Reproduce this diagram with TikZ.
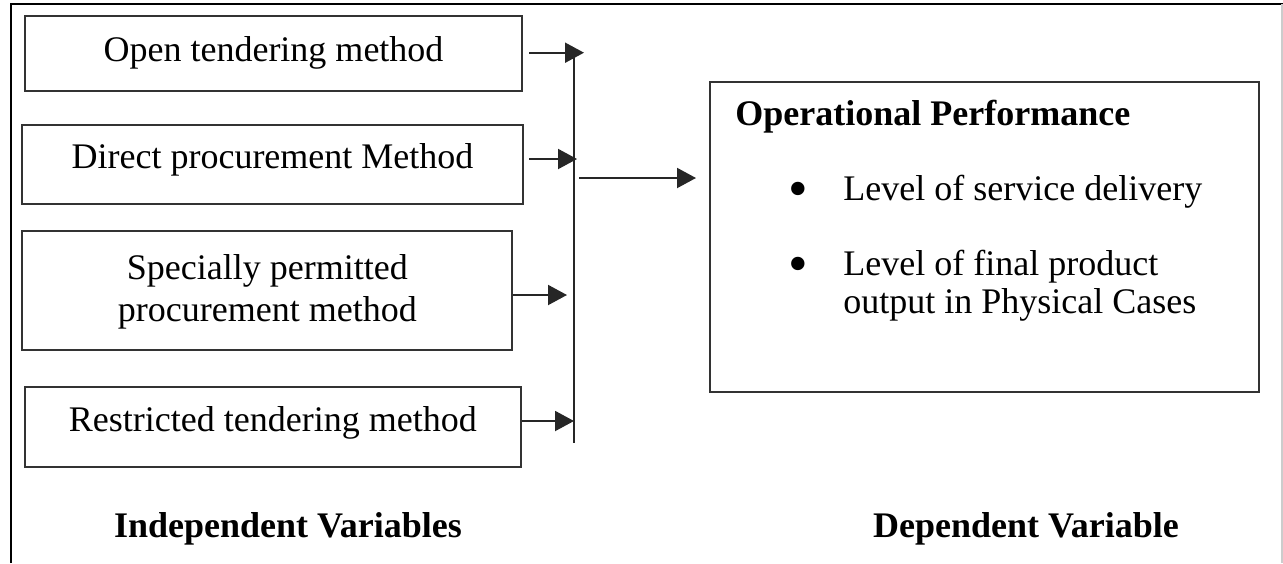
\documentclass[tikz,border=0pt]{standalone}
\usepackage{fontspec}
\setmainfont{Liberation Serif}
\usetikzlibrary{arrows.meta}

\begin{document}
\begin{tikzpicture}[x=0.5pt,y=-0.5pt,inner sep=0pt,
		font=\fontsize{18}{21}\selectfont,
		method/.style={draw=black!80,line width=1pt,text height=12pt},
		link/.style={draw=black!85,line width=1pt,-{Triangle[length=9.5pt,width=10pt]}},
		heading/.style={font=\fontsize{18}{21}\selectfont\bfseries,anchor=base},
		bullet/.style={font=\fontsize{28}{28}\selectfont,anchor=base}]
		\useasboundingbox (0,0) rectangle (1283,563);
		% frame, open at the bottom
		\draw[line width=1pt] (11,563) -- (11,4) -- (1283,4);
		\draw[black!20,line width=1pt] (1282,4) -- (1282,563);
		
		% independent variables
		\node[method,minimum width=248.5pt,minimum height=37.5pt,text depth=4pt] (open) at (273.5,53.5) {Open tendering method};
		\node[method,minimum width=250.5pt,minimum height=39.5pt,text depth=8.5pt] (direct) at (272.5,164.5) {Direct procurement Method};
		\node[method,minimum width=245pt,minimum height=59.5pt,text width=240pt,align=flush center,text depth=23.5pt] (special) at (267.4,290.5) {Specially permitted\\procurement method};
		\node[method,minimum width=248pt,minimum height=40pt,text depth=7.7pt] (restricted) at (272.8,426.7) {Restricted tendering method};
		
		\coordinate (bustop) at (574,56);
		\coordinate (busbot) at (574,443);
		\draw[black!85,line width=0.8pt] (bustop) -- (busbot);
		\coordinate (in1) at (584,52.7);
		\coordinate (in2) at (577,159);
		\coordinate (in3) at (567,295);
		\coordinate (in4) at (574,421);
		\coordinate (hub) at (574,178);
		\draw[link,shorten <=3pt] (open.east |- in1) -- (in1);
		\draw[link,shorten <=2.5pt] (direct.east |- in2) -- (in2);
		\draw[link] (special.east |- in3) -- (in3);
		\draw[link] (restricted.east |- in4) -- (in4);
		
		% dependent variable
		\node[method,minimum width=274.5pt,minimum height=155pt] (perf) at (984.5,237) {};
		\draw[link,shorten <=2.5pt,shorten >=6.5pt] (hub) -- (hub -| perf.west);
		\node[heading,anchor=base west] (optitle) at (735,125) {Operational Performance};
		\node[bullet] (dot1) at (798,207) {•};
		\node[anchor=base west] (item1) at (843,200) {Level of service delivery};
		\node[bullet] (dot2) at (798,282) {•};
		\node[anchor=base west,text width=200pt,align=flush left,font=\fontsize{18}{19}\selectfont] (item2) at (843,275) {Level of final product\\output in Physical Cases};
		
		\node[heading] (indep) at (288,537) {Independent Variables};
		\node[heading] (dep) at (1026,537) {Dependent Variable};
	\end{tikzpicture}
\end{document}
